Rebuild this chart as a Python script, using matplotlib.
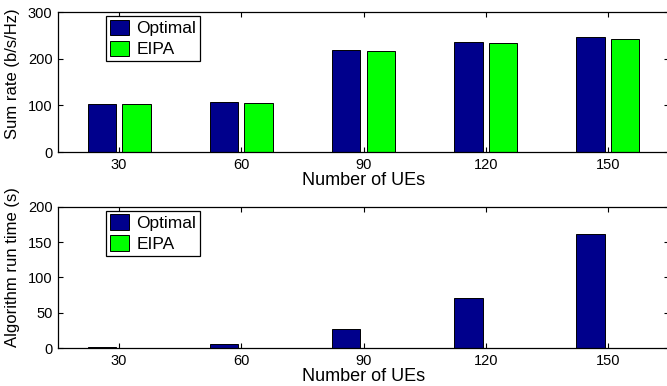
import numpy as np
import matplotlib
matplotlib.use('Agg')
import matplotlib.pyplot as plt

plt.rcParams['font.family'] = ['Liberation Sans', 'DejaVu Sans']

# number of UEs on the x axis
num_ues = [30, 60, 90, 120, 150]
labels = ['Optimal', 'EIPA']

# sum rate (b/s/Hz)
rate_optimal = [103.5, 106.4, 218.6, 235.7, 247.0]
rate_eipa = [103.0, 104.3, 215.7, 233.6, 242.8]

# algorithm run time (s)
time_optimal = [1.5, 6.0, 26.5, 70.3, 161.4]
time_eipa = [0.4, 0.4, 0.5, 0.5, 0.6]

c_opt = '#00008c'
c_eipa = '#00ff00'
width = 7.0
offset = 4.25

fig = plt.figure(figsize=(6.67, 3.86), dpi=100)
ax1 = fig.add_axes([0.087, 0.606, 0.916, 0.3627])
ax2 = fig.add_axes([0.087, 0.0984, 0.916, 0.366])

def draw_panel(ax, y_opt, y_eipa, ylim, yticks, ylabel, ylab_size):
    x = np.array(num_ues, dtype=float)
    ax.bar(x - offset, y_opt, width, color=c_opt, edgecolor='black', linewidth=0.7, label=labels[0])
    ax.bar(x + offset, y_eipa, width, color=c_eipa, edgecolor='black', linewidth=0.7, label=labels[1])
    ax.set_xlim(15, 165)
    ax.set_ylim(*ylim)
    ax.set_xticks(num_ues)
    ax.set_yticks(yticks)
    ax.tick_params(direction='in', length=3.5, width=0.8, labelsize=10.5, pad=4,
                   top=True, right=True)
    for s in ax.spines.values():
        s.set_linewidth(0.9)
    ax.set_xlabel('Number of UEs', fontsize=13, labelpad=0)
    ax.set_ylabel(ylabel, fontsize=ylab_size, labelpad=2)
    leg = ax.legend(loc='upper left', bbox_to_anchor=(0.0786, 0.971), borderaxespad=0,
                    fontsize=12.5, fancybox=False, edgecolor='black', framealpha=1,
                    handlelength=1.15, handleheight=1.0, handletextpad=0.4,
                    labelspacing=0.25, borderpad=0.2)
    leg.get_frame().set_linewidth(0.9)

draw_panel(ax1, rate_optimal, rate_eipa, (0, 300), [0, 100, 200, 300], 'Sum rate (b/s/Hz)', 12)
draw_panel(ax2, time_optimal, time_eipa, (0, 200), [0, 50, 100, 150, 200], 'Algorithm run time (s)', 12)
# y labels sit close to the left edge and a bit above the axes centre
ax1.yaxis.set_label_coords(-0.063, 0.56)
ax2.yaxis.set_label_coords(-0.063, 0.575)

fig.savefig('out.png', dpi=100)
